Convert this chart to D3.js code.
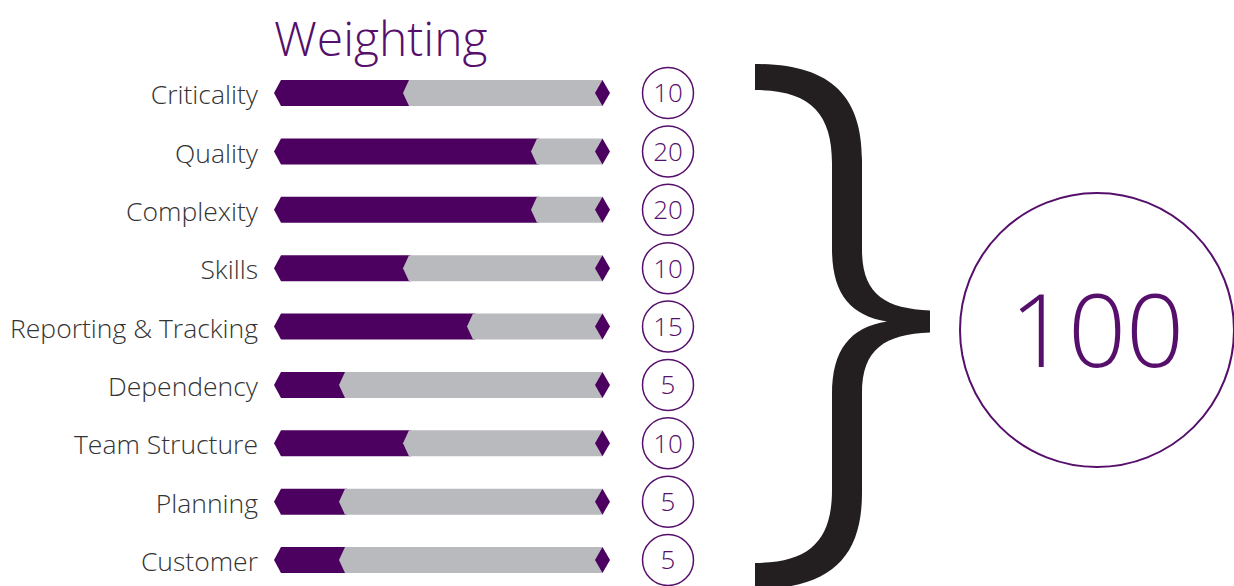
<!DOCTYPE html>
<html>
<head>
<meta charset="utf-8">
<title>Weighting</title>
<script src="https://d3js.org/d3.v7.min.js"></script>
<style>
body { margin: 0; background: #fff; }
text { font-family: "Open Sans", sans-serif; }
</style>
</head>
<body>
<div id="chart"></div>
<script>
var categories = ["Criticality", "Quality", "Complexity", "Skills", "Reporting & Tracking",
                  "Dependency", "Team Structure", "Planning", "Customer"];
var weights = [10, 20, 20, 10, 15, 5, 10, 5, 5];
var totalLabel = "100";
var title = "Weighting";

var width = 1234, height = 586,
    purple = "#4c005f",
    textPurple = "#560f6b",
    grey = "#b9babe",
    barH = 26;

var svg = d3.select("#chart").append("svg")
    .attr("width", width).attr("height", height);

var x = d3.scaleLinear().domain([0, 25]).range([281, 601]);
var y = d3.scalePoint().domain(categories).range([93, 560]);

// title
svg.append("text")
    .attr("x", 274).attr("y", 56)
    .attr("fill", textPurple)
    .style("font-size", "48px").style("font-weight", 300)
    .text(title);

var rows = svg.selectAll("g.row")
    .data(categories.map(function(c, i) { return {cat: c, v: weights[i]}; }))
    .enter().append("g")
    .attr("class", "row")
    .attr("transform", function(d) { return "translate(0," + y(d.cat) + ")"; });

// labels
rows.append("text")
    .attr("x", 258).attr("dy", "0.42em")
    .attr("text-anchor", "end")
    .attr("fill", "#333")
    .style("font-size", "26.5px").style("font-weight", 300)
    .text(function(d) { return d.cat; });

var h = barH / 2, tip = 7, dx = x(25) + 1.5;
// purple part with pointed left end
rows.append("path")
    .attr("fill", purple)
    .attr("d", function(d) {
      var x0 = x(0), x1 = x(d.v) + 2;
      return "M" + (x0 - tip) + ",0 L" + x0 + "," + (-h) + " L" + x1 + "," + (-h) +
             " L" + x1 + "," + h + " L" + x0 + "," + h + " Z";
    });
// grey remainder with arrow notch
rows.append("path")
    .attr("fill", grey)
    .attr("d", function(d) {
      var x0 = x(d.v), x1 = dx;
      return "M" + (x0 - 6) + ",0 L" + x0 + "," + (-h) + " L" + x1 + "," + (-h) +
             " L" + x1 + "," + h + " L" + x0 + "," + h + " Z";
    });
// end diamond
rows.append("path")
    .attr("fill", purple)
    .attr("d", "M" + (dx - 7.5) + ",0 L" + dx + "," + (-h) + " L" + (dx + 7.5) + ",0 L" + dx + "," + h + " Z");

// value circles
rows.append("circle")
    .attr("cx", 668).attr("r", 25.5)
    .attr("fill", "none").attr("stroke", textPurple).attr("stroke-width", 1.5);
rows.append("text")
    .attr("x", 668).attr("dy", "0.36em")
    .attr("text-anchor", "middle")
    .attr("fill", textPurple)
    .style("font-size", "26px").style("font-weight", 300)
    .text(function(d) { return d.v; });

// brace
var bTop = y(categories[0]) - 29, bBot = y(categories[categories.length - 1]) + 29,
    mid = (bTop + bBot) / 2 - 5;
var braceD = [
  "M755," + bTop,
  "C830," + bTop + " 862," + (bTop + 31) + " 862," + (bTop + 96),
  "L862," + (mid - 72),
  "C862," + (mid - 27) + " 885," + (mid - 13) + " 930," + (mid - 11),
  "L930," + (mid + 11),
  "C885," + (mid + 13) + " 862," + (mid + 27) + " 862," + (mid + 72),
  "L862," + (bBot - 96),
  "C862," + (bBot - 31) + " 830," + bBot + " 755," + bBot,
  "L755," + (bBot - 26),
  "C810," + (bBot - 26) + " 832," + (bBot - 49) + " 832," + (bBot - 99),
  "L832," + (mid + 73),
  "C832," + (mid + 28) + " 850," + (mid + 6) + " 887," + mid,
  "C850," + (mid - 6) + " 832," + (mid - 28) + " 832," + (mid - 73),
  "L832," + (bTop + 99),
  "C832," + (bTop + 49) + " 810," + (bTop + 26) + " 755," + (bTop + 26),
  "Z"
].join(" ");
svg.append("path").attr("d", braceD).attr("fill", "#231f20");

// total
var total = d3.sum(weights);
svg.append("circle")
    .attr("cx", 1097).attr("cy", 330).attr("r", 137)
    .attr("fill", "none").attr("stroke", textPurple).attr("stroke-width", 2);
svg.append("text")
    .attr("x", 1097).attr("y", 330).attr("dy", "0.36em")
    .attr("text-anchor", "middle")
    .attr("fill", textPurple)
    .style("font-size", "102px").style("font-weight", 300)
    .text(total === 100 ? totalLabel : total);
</script>
</body>
</html>
